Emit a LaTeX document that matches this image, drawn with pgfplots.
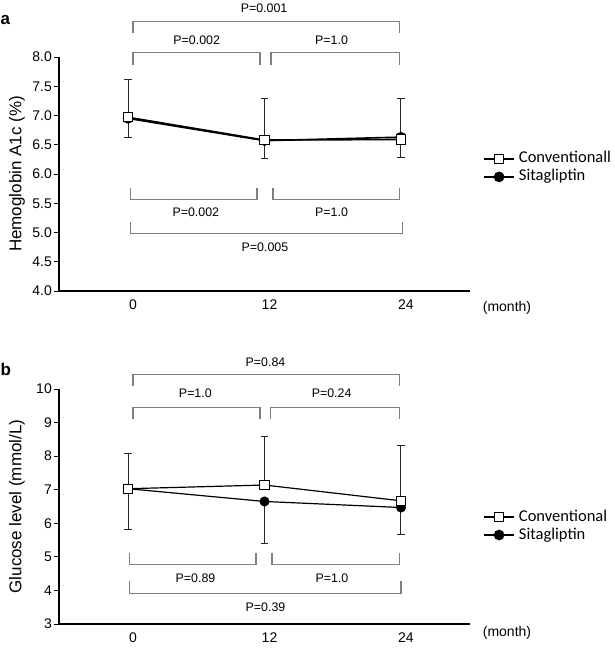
\documentclass[border=0pt]{standalone}
\usepackage{fontspec}
\setmainfont{Liberation Sans}
\newfontfamily\legfont{Carlito}
\usepackage{pgfplots}
\pgfplotsset{compat=1.18}

\definecolor{brk}{HTML}{7F7F7F}
\definecolor{ebar}{HTML}{262626}

\newcommand{\pfont}{\fontsize{12.4bp}{14bp}\selectfont}
\newcommand{\tfont}{\fontsize{14bp}{16bp}\selectfont}
\newcommand{\lfont}{\fontsize{17bp}{19bp}\selectfont}

\pgfplotsset{
  myaxis/.style={
    scale only axis, width=411bp, anchor=south west,
    axis lines*=left, axis line style={line width=1.3bp, black},
    xmin=-6.07, xmax=30.07,
    xtick={0,12,24}, xtick style={draw=none},
    xticklabel style={font=\tfont, xshift=5bp},
    yticklabel style={font=\tfont, inner xsep=2bp},
    ytick style={line width=1bp, black},
    tick align=outside, major tick length=5bp,
    /pgf/number format/assume math mode=true,
    clip=false,
    every axis y label/.style={font=\lfont, at={(axis description cs:-0.102,0.5)}, rotate=90, anchor=center},
    legend cell align=left,
    legend style={draw=none, fill=none, inner sep=0pt, anchor=west,
      font=\legfont\fontsize{16.5bp}{18bp}\selectfont,
      nodes={inner sep=0pt, text height=11bp, text depth=3bp},
      row sep=4bp,
      /tikz/every odd column/.append style={column sep=4bp}},
    legend image code/.code={\draw[mark repeat=2,mark phase=2,##1] plot coordinates {(0bp,0bp)(15bp,0bp)(30bp,0bp)};},
  },
  conv/.style={black, mark=square*, mark size=4.6bp, mark options={fill=white, draw=black, line width=1bp, solid}},
  sita/.style={black, mark=*, mark size=4.4bp, mark options={fill=black, draw=black, solid}},
}

\begin{document}
\begin{tikzpicture}
\useasboundingbox (0,0) rectangle (615bp,-650bp);

% ---------------- panel a ----------------
\node[anchor=west, inner sep=0pt, font=\bfseries\lfont] at (0.5bp,-20bp) {a};
\node[font=\tfont] at (507bp,-307.5bp) {(month)};
\begin{axis}[myaxis,
  at={(59bp,-291bp)}, height=234bp,
  ymin=4, ymax=8, ytick={4,4.5,...,8},
  yticklabel style={/pgf/number format/.cd, fixed, fixed zerofill, precision=1},
  ylabel={Hemoglobin A1c (\%)},
  legend style={at={(axis description cs:1.0316,0.526)}},
]
\addlegendimage{conv, line width=1.8bp}
\addlegendentry{Conventionall}
\addlegendimage{sita, line width=1.8bp}
\addlegendentry{Sitagliptin}

\addplot[sita, line width=1.6bp, forget plot,
  error bars/.cd, y dir=minus, y explicit,
  error bar style={line width=1bp, ebar, solid},
  error mark options={rotate=90, mark size=3.6bp, line width=1bp, ebar}]
  coordinates {(0,6.95) -= (0,0.33) (12,6.57) -= (0,0.31) (24,6.63) -= (0,0.34)};
\addplot[conv, line width=1.6bp, forget plot,
  error bars/.cd, y dir=plus, y explicit,
  error bar style={line width=1bp, ebar, solid},
  error mark options={rotate=90, mark size=3.6bp, line width=1bp, ebar}]
  coordinates {(0,6.97) += (0,0.64) (12,6.58) += (0,0.71) (24,6.59) += (0,0.70)};

% brackets above
\draw[brk, line width=1.1bp] (axis cs:0.44,8.41) |- (axis cs:23.9,8.61) -- (axis cs:23.9,8.41);
\node[font=\pfont] at (axis cs:11.96,8.83) {P=0.001};
\draw[brk, line width=1.1bp] (axis cs:0.44,7.86) |- (axis cs:11.6,8.07) -- (axis cs:11.6,7.86);
\node[font=\pfont] at (axis cs:6.04,8.29) {P=0.002};
\draw[brk, line width=1.1bp] (axis cs:12.57,7.86) |- (axis cs:23.9,8.07) -- (axis cs:23.9,7.86);
\node[font=\pfont] at (axis cs:17.9,8.29) {P=1.0};
% brackets below
\draw[brk, line width=1.1bp] (axis cs:0.18,5.755) |- (axis cs:11.34,5.57) -- (axis cs:11.34,5.755);
\node[font=\pfont] at (axis cs:5.96,5.35) {P=0.002};
\draw[brk, line width=1.1bp] (axis cs:12.75,5.755) |- (axis cs:23.9,5.57) -- (axis cs:23.9,5.755);
\node[font=\pfont] at (axis cs:17.9,5.35) {P=1.0};
\draw[brk, line width=1.1bp] (axis cs:0.18,5.18) |- (axis cs:24.1,4.99) -- (axis cs:24.1,5.18);
\node[font=\pfont] at (axis cs:12.04,4.75) {P=0.005};
\end{axis}

% ---------------- panel b ----------------
\node[anchor=west, inner sep=0pt, font=\bfseries\lfont] at (0.5bp,-369bp) {b};
\node[font=\tfont] at (507bp,-633bp) {(month)};
\begin{axis}[myaxis,
  at={(59bp,-624bp)}, height=235bp,
  ymin=3, ymax=10, ytick={3,4,...,10},
  ylabel={Glucose level (mmol/L)},
  legend style={at={(axis description cs:1.0316,0.417)}},
]
\addlegendimage{conv, line width=1.8bp}
\addlegendentry{Conventional}
\addlegendimage{sita, line width=1.8bp}
\addlegendentry{Sitagliptin}

\addplot[sita, line width=1.2bp, forget plot,
  error bars/.cd, y dir=minus, y explicit,
  error bar style={line width=1bp, ebar, solid},
  error mark options={rotate=90, mark size=3.6bp, line width=1bp, ebar}]
  coordinates {(0,7.03) -= (0,1.20) (12,6.65) -= (0,1.26) (24,6.47) -= (0,0.79)};
\addplot[conv, line width=1.2bp, forget plot,
  error bars/.cd, y dir=plus, y explicit,
  error bar style={line width=1bp, ebar, solid},
  error mark options={rotate=90, mark size=3.6bp, line width=1bp, ebar}]
  coordinates {(0,7.03) += (0,1.04) (12,7.14) += (0,1.45) (24,6.67) += (0,1.65)};

% brackets above
\draw[brk, line width=1.1bp] (axis cs:0.44,10.09) |- (axis cs:23.9,10.42) -- (axis cs:23.9,10.09);
\node[font=\pfont] at (axis cs:12.09,10.80) {P=0.84};
\draw[brk, line width=1.1bp] (axis cs:0.44,9.11) |- (axis cs:11.6,9.45) -- (axis cs:11.6,9.11);
\node[font=\pfont] at (axis cs:5.92,9.87) {P=1.0};
\draw[brk, line width=1.1bp] (axis cs:12.54,9.11) |- (axis cs:23.9,9.45) -- (axis cs:23.9,9.11);
\node[font=\pfont] at (axis cs:17.9,9.87) {P=0.24};
% brackets below
\draw[brk, line width=1.1bp] (axis cs:0.09,5.13) |- (axis cs:11.25,4.76) -- (axis cs:11.25,5.13);
\node[font=\pfont] at (axis cs:5.93,4.35) {P=0.89};
\draw[brk, line width=1.1bp] (axis cs:12.66,5.13) |- (axis cs:23.9,4.76) -- (axis cs:23.9,5.13);
\node[font=\pfont] at (axis cs:17.93,4.35) {P=1.0};
\draw[brk, line width=1.1bp] (axis cs:0.09,4.27) |- (axis cs:24.0,3.90) -- (axis cs:24.0,4.27);
\node[font=\pfont] at (axis cs:12.09,3.51) {P=0.39};
\end{axis}
\end{tikzpicture}
\end{document}
